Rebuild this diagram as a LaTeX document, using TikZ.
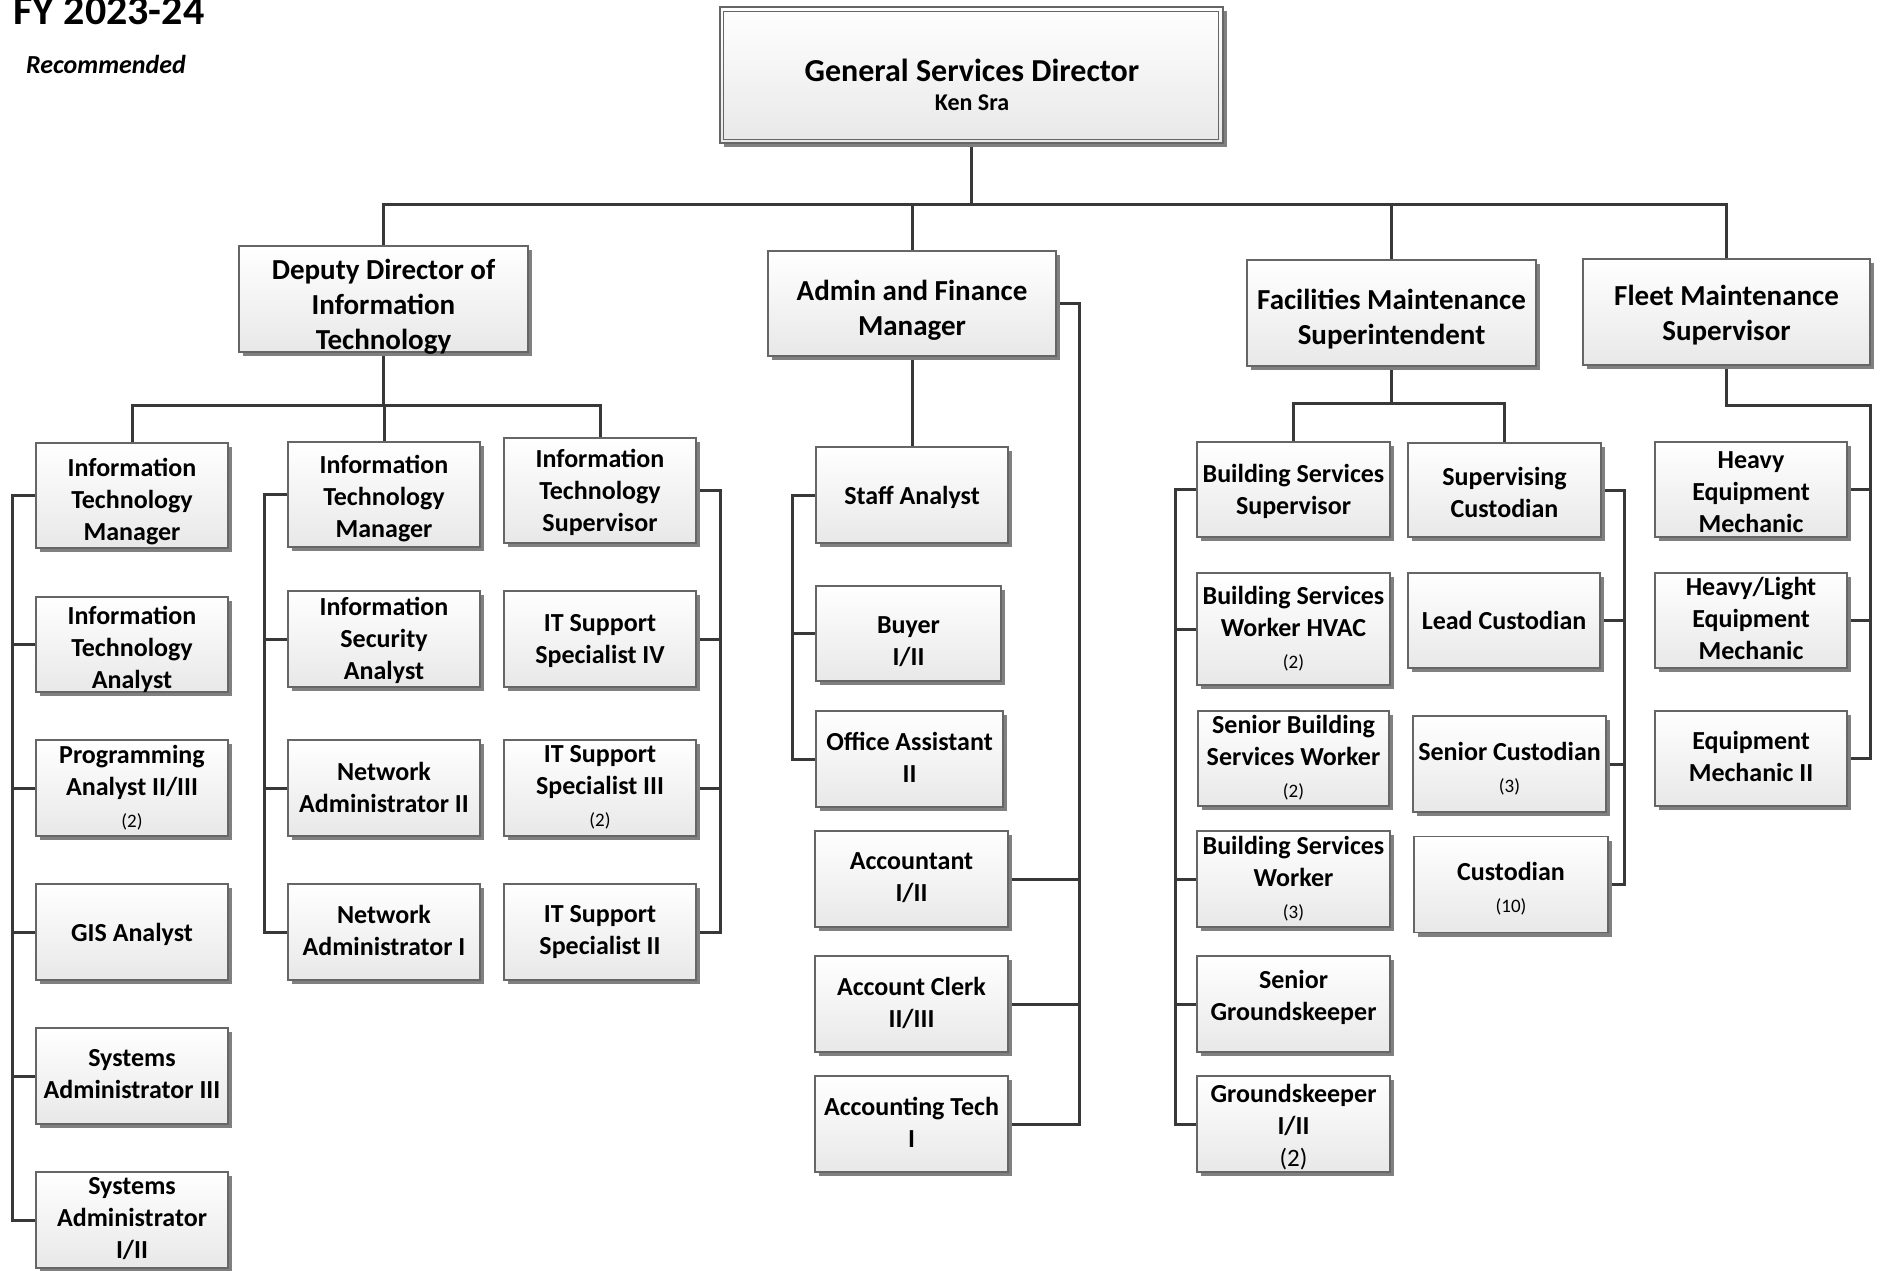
\documentclass[tikz,border=0pt]{standalone}
\usepackage{fontspec}
\setmainfont{Carlito}
\usetikzlibrary{shadows}
\pgfdeclarelayer{bg}
\pgfsetlayers{bg,main}
\newcommand\cntl[1]{{\fontsize{19}{23}\selectfont\mdseries #1}}
\tikzset{
  ubox/.style={draw=black!60, line width=1.3pt, top color=white, bottom color=black!9,
    inner sep=0pt, drop shadow={shadow xshift=4pt, shadow yshift=-4pt, fill=black!50, opacity=1}},
  utext/.style={align=center, inner sep=0pt, font=\fontsize{26}{32}\selectfont\bfseries,
    execute at begin node=\strut, execute at end node=\strut},
  btext/.style={align=center, inner sep=0pt, font=\fontsize{29}{35}\selectfont\bfseries,
    execute at begin node=\strut, execute at end node=\strut},
  conn/.style={draw=black!78, line width=3pt},
}
% name, cx, cy, w, h, down-shift of text, text
\newcommand\obox[7]{%
  \node[ubox, minimum width=#4pt, minimum height=#5pt] (#1) at (#2,#3) {};
  \node[utext] (#1t) at ([shift={(0,#6+3)}]#1.center) {#7};}
\newcommand\bbox[7]{%
  \node[ubox, minimum width=#4pt, minimum height=#5pt] (#1) at (#2,#3) {};
  \node[btext] (#1t) at ([shift={(0,#6+4.5)}]#1.center) {#7};}
\begin{document}
\begin{tikzpicture}[x=1pt,y=-1pt]
\useasboundingbox (0,0) rectangle (1881,1270);
% titles
\node[anchor=base west, inner sep=0pt, font=\fontsize{42}{50}\selectfont\bfseries] (fy) at (13,24) {FY 2023-24};
\node[anchor=base west, inner sep=0pt, font=\fontsize{26}{31}\selectfont\bfseries\itshape] (rec) at (26,73) {Recommended};
% top box
\node[ubox, minimum width=503pt, minimum height=136pt] (gsd) at (971.5,75) {};
\draw[draw=black!60, line width=1.3pt] ([shift={(4,5)}]gsd.north west) rectangle ([shift={(-5,-4)}]gsd.south east);
\node[anchor=base, inner sep=0pt, font=\fontsize{32}{38}\selectfont\bfseries] (gsdt) at (972,81) {General Services Director};
\node[anchor=base, inner sep=0pt, font=\fontsize{24}{28}\selectfont\bfseries] (gsdn) at (972,110) {Ken Sra};
% level 2
\bbox{dep}{383.5}{299}{289}{106}{6}{Deputy Director of\\Information\\Technology}
\bbox{adm}{912}{303.5}{288}{105}{5}{Admin and Finance\\Manager}
\bbox{fac}{1391.5}{313}{289}{106}{5}{Facilities Maintenance\\Superintendent}
\bbox{flt}{1726.5}{312}{287}{106}{1.5}{Fleet Maintenance\\Supervisor}
% IT column 1
\obox{itm1}{132}{495.5}{192}{105}{6}{Information\\Technology\\Manager}
\obox{ita}{132}{644.5}{192}{95}{5}{Information\\Technology\\Analyst}
\obox{pa}{132}{788}{192}{96}{0}{Programming\\Analyst II/III\\\cntl{(2)}}
\obox{gis}{132}{932}{192}{96}{0}{GIS Analyst}
\obox{sa3}{132}{1076}{192}{96}{0}{Systems\\Administrator III}
\obox{sa12}{132}{1220}{192}{96}{0}{Systems\\Administrator\\I/II}
% IT column 2
\obox{itm2}{384}{494.5}{192}{105}{4}{Information\\Technology\\Manager}
\obox{isa}{384}{639}{192}{96}{1}{Information\\Security\\Analyst}
\obox{na2}{384}{788}{192}{96}{1.5}{Network\\Administrator II}
\obox{na1}{384}{932}{192}{96}{0}{Network\\Administrator I}
% IT column 3
\obox{its}{600}{490.5}{192}{105}{2}{Information\\Technology\\Supervisor}
\obox{is4}{600}{639}{192}{96}{1.5}{IT Support\\Specialist IV}
\obox{is3}{600}{788}{192}{96}{0}{IT Support\\Specialist III\\\cntl{(2)}}
\obox{is2}{600}{932}{192}{96}{0}{IT Support\\Specialist II}
% Admin
\obox{sta}{912}{495}{192}{96}{0}{Staff Analyst}
\obox{buy}{908.5}{633.5}{185}{95}{9}{Buyer\\I/II}
\obox{oa}{909.5}{759}{187}{96}{0}{Office Assistant\\II}
\obox{acc}{911.5}{879}{193}{96}{0}{Accountant\\I/II}
\obox{acl}{911.5}{1004}{193}{96}{0}{Account Clerk\\II/III}
\obox{act}{911.5}{1124}{193}{96}{0}{Accounting Tech\\I}
% Facilities
\obox{bss}{1293.5}{489.5}{193}{95}{2}{Building Services\\Supervisor}
\obox{hvac}{1293.5}{629}{193}{112}{0}{Building Services\\Worker HVAC\\\cntl{(2)}}
\obox{sbsw}{1293.5}{758.5}{191}{95}{0}{Senior Building\\Services Worker\\\cntl{(2)}}
\obox{bsw}{1293.5}{879}{193}{96}{0}{Building Services\\Worker\\\cntl{(3)}}
\obox{sg}{1293.5}{1004}{193}{96}{-7}{Senior\\Groundskeeper}
\obox{gk}{1293.5}{1124}{193}{96}{3.5}{Groundskeeper\\I/II\\{\fontsize{25}{30}\selectfont\mdseries (2)}}
\obox{sc}{1504.5}{490}{193}{94}{4.5}{Supervising\\Custodian}
\obox{lc}{1504}{620.5}{192}{95}{0}{Lead Custodian}
\obox{snc}{1509.5}{764}{193}{96}{5}{Senior Custodian\\\cntl{(3)}}
\obox{cu}{1511}{884.5}{194}{96}{4.5}{Custodian\\\cntl{(10)}}
% Fleet
\obox{hem}{1751}{489.5}{192}{95}{4.5}{Heavy\\Equipment\\Mechanic}
\obox{hlem}{1751}{620.5}{192}{95}{0}{Heavy/Light\\Equipment\\Mechanic}
\obox{em2}{1751}{758.5}{192}{95}{0}{Equipment\\Mechanic II}
% connectors
\begin{pgfonlayer}{bg}
\coordinate (busTop) at (0,204);
\coordinate (busIT) at (0,405);
\coordinate (busF) at (0,403);
\coordinate (busFl) at (0,405);
\coordinate (c1) at (12,0);
\coordinate (c2) at (264,0);
\coordinate (c3) at (720,0);
\coordinate (ca) at (792,0);
\coordinate (cb) at (1079,0);
\coordinate (cf) at (1175,0);
\coordinate (cc) at (1624,0);
\coordinate (cfl) at (1870,0);
\draw[conn] (gsd.south) -- (gsd.south |- busTop);
\draw[conn] (dep.north) |- (flt.north |- busTop) -- (flt.north);
\draw[conn] (adm.north) -- (adm.north |- busTop);
\draw[conn] (fac.north) -- (fac.north |- busTop);
% IT
\draw[conn] (dep.south) -- (dep.south |- busIT);
\draw[conn] (itm1.north) |- (its.north |- busIT) -- (its.north);
\draw[conn] (itm2.north) -- (itm2.north |- busIT);
\draw[conn] (itm1.west) -| (c1 |- sa12.west) -- (sa12.west);
\draw[conn] (ita.west) -- (ita.west -| c1);
\draw[conn] (pa.west) -- (pa.west -| c1);
\draw[conn] (gis.west) -- (gis.west -| c1);
\draw[conn] (sa3.west) -- (sa3.west -| c1);
\draw[conn] (itm2.west) -| (c2 |- na1.west) -- (na1.west);
\draw[conn] (isa.west) -- (isa.west -| c2);
\draw[conn] (na2.west) -- (na2.west -| c2);
\draw[conn] (its.east) -| (c3 |- is2.east) -- (is2.east);
\draw[conn] (is4.east) -- (is4.east -| c3);
\draw[conn] (is3.east) -- (is3.east -| c3);
% Admin
\draw[conn] (adm.south) -- (adm.south |- sta.north);
\draw[conn] (sta.west) -| (ca |- oa.west) -- (oa.west);
\draw[conn] (buy.west) -- (buy.west -| ca);
\draw[conn] (adm.east) -| (cb |- act.east) -- (act.east);
\draw[conn] (acc.east) -- (acc.east -| cb);
\draw[conn] (acl.east) -- (acl.east -| cb);
% Facilities
\draw[conn] (fac.south) -- (fac.south |- busF);
\draw[conn] (bss.north) |- (sc.north |- busF) -- (sc.north);
\draw[conn] (bss.west) -| (cf |- gk.west) -- (gk.west);
\draw[conn] (hvac.west) -- (hvac.west -| cf);
\draw[conn] (bsw.west) -- (bsw.west -| cf);
\draw[conn] (sg.west) -- (sg.west -| cf);
\draw[conn] (sc.east) -| (cc |- cu.east) -- (cu.east);
\draw[conn] (lc.east) -- (lc.east -| cc);
\draw[conn] (snc.east) -- (snc.east -| cc);
% Fleet
\draw[conn] (flt.south) |- (cfl |- busFl) |- (em2.east);
\draw[conn] (hem.east) -- (hem.east -| cfl);
\draw[conn] (hlem.east) -- (hlem.east -| cfl);
\end{pgfonlayer}
\end{tikzpicture}
\end{document}
